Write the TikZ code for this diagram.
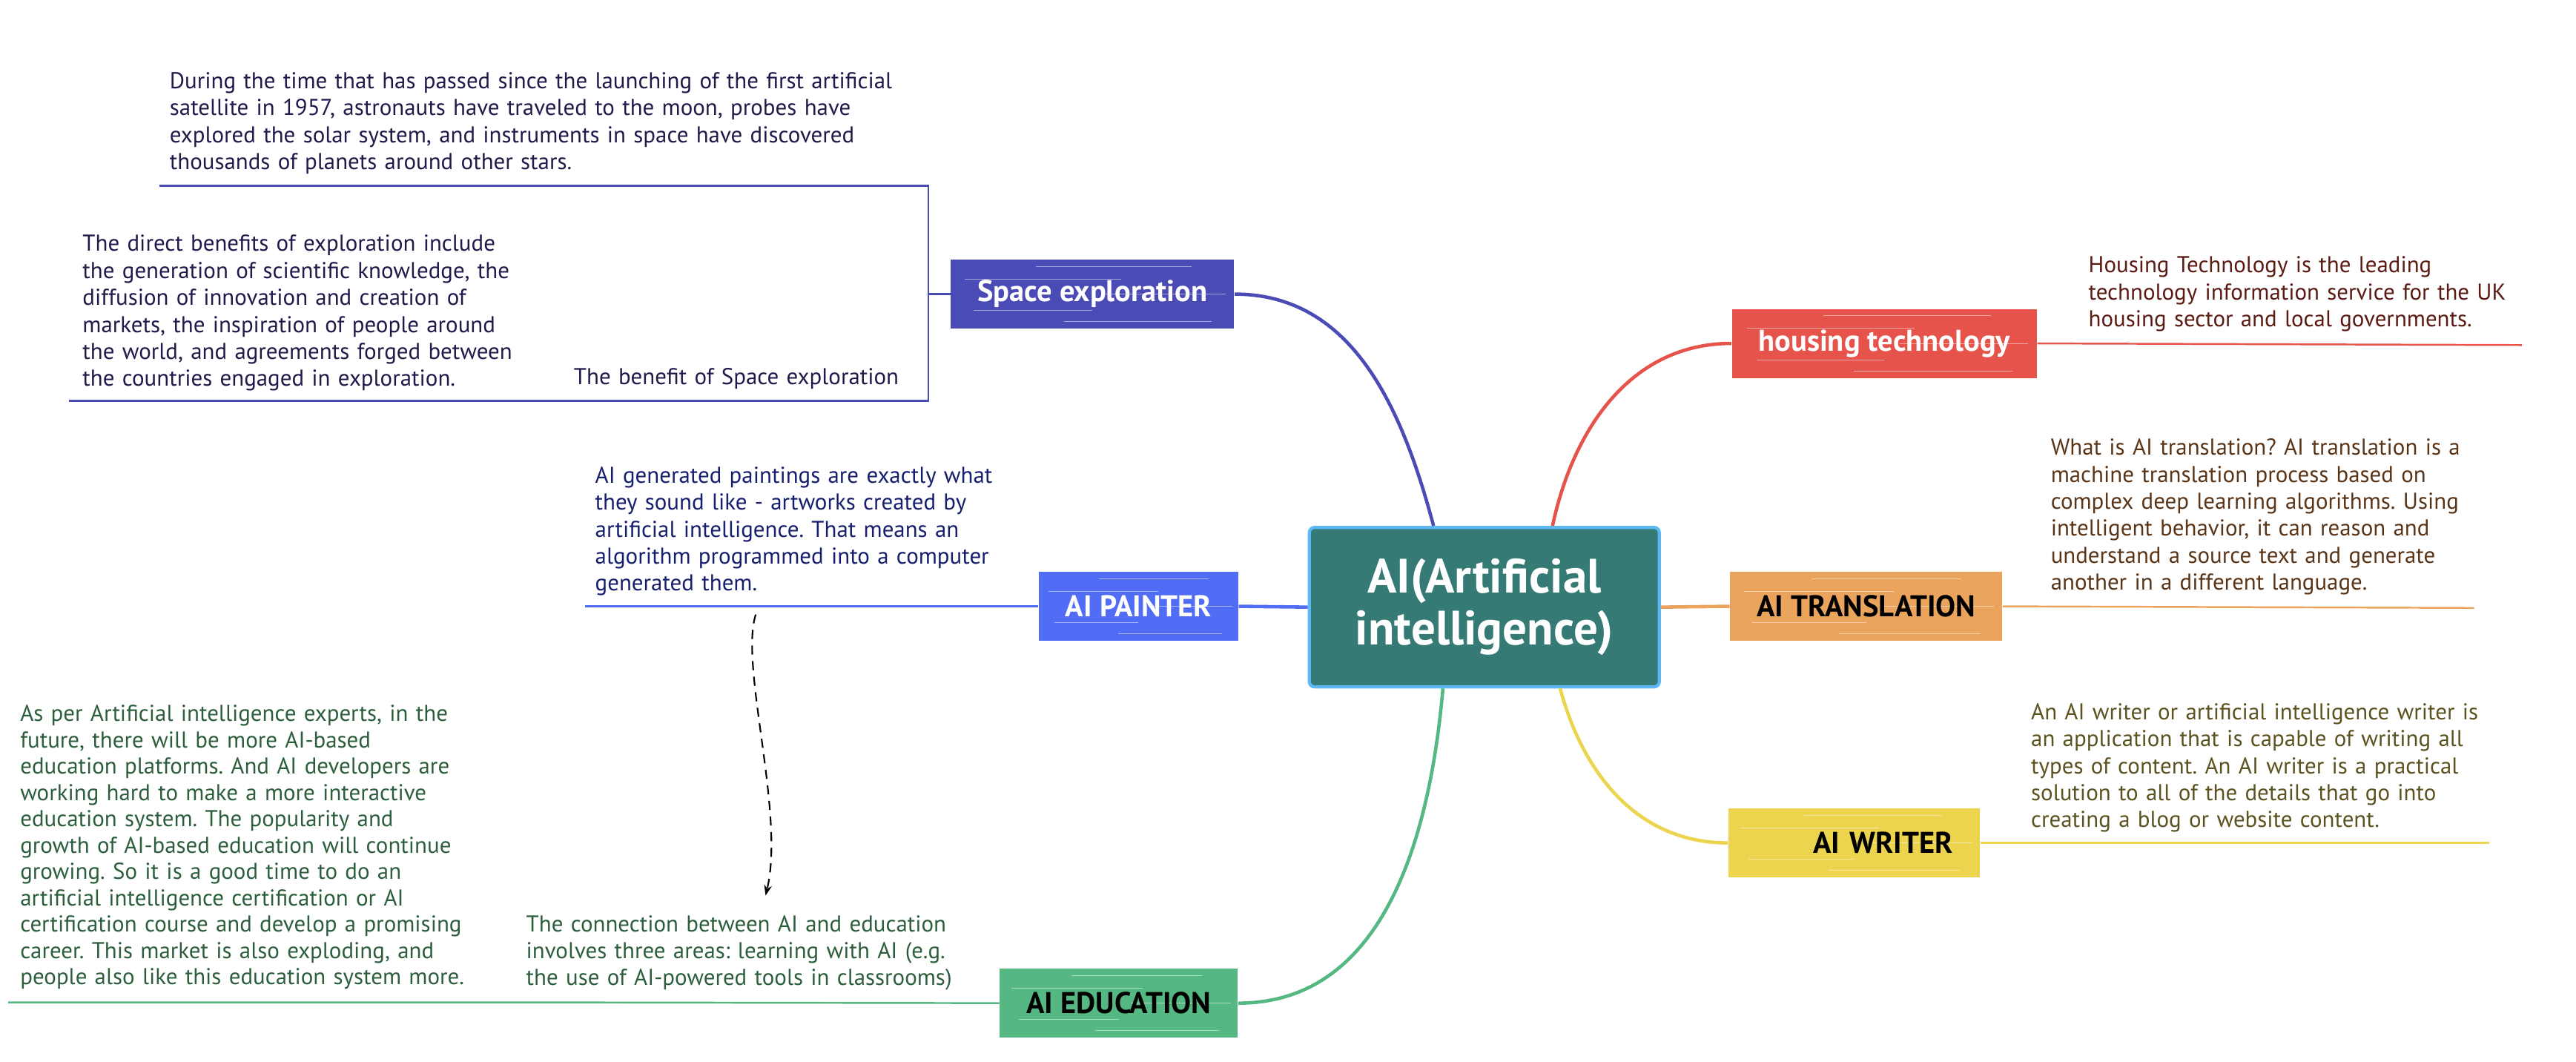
\documentclass[tikz,border=0pt]{standalone}
\usepackage{fontspec}
\setmainfont{PT Sans}
\frenchspacing
\usetikzlibrary{arrows.meta,positioning,calc}
\definecolor{aiteal}{RGB}{53,122,116}
\definecolor{aiborder}{RGB}{91,184,245}
\definecolor{spacec}{RGB}{75,75,181}
\definecolor{housec}{RGB}{229,83,75}
\definecolor{paintc}{RGB}{82,109,245}
\definecolor{transc}{RGB}{235,164,94}
\definecolor{writerc}{RGB}{237,212,78}
\definecolor{educ}{RGB}{85,184,130}
\definecolor{spacetxt}{RGB}{30,27,75}
\definecolor{painttxt}{RGB}{22,30,110}
\definecolor{housetxt}{RGB}{91,26,18}
\definecolor{transtxt}{RGB}{90,52,22}
\definecolor{writertxt}{RGB}{92,82,32}
\definecolor{edutxt}{RGB}{44,94,60}
\newcommand\brushlines{%
  \foreach \fy/\fa/\fb in {0.1/0.3/0.85, 0.28/0.05/0.6, 0.5/0.55/0.97, 0.74/0.08/0.5, 0.9/0.4/0.92}{%
    \draw[white, opacity=0.5, line width=0.3pt]
      let \p1=(path picture bounding box.south west), \p2=(path picture bounding box.north east) in
      ({\x1+\fa*(\x2-\x1)},{\y2-\fy*(\y2-\y1)}) -- ({\x1+\fb*(\x2-\x1)},{\y2-\fy*(\y2-\y1)});
  }}

\begin{document}
\begin{tikzpicture}[x=0.22156mm, y=-0.22156mm,
  topic/.style={fill=#1, minimum height=0.93cm, inner xsep=3.6mm, font=\bfseries\fontsize{11.5}{13}\selectfont, path picture={\brushlines}},
  note/.style={anchor=base west, text width=11cm, align=left, inner sep=0pt, font=\fontsize{8.8}{10.34}\selectfont},
  ln/.style={draw=#1, line width=0.7pt},
  branch/.style={draw=#1, line width=1.3pt}]
\useasboundingbox (0,0) rectangle (1568,646);

\node[draw=aiborder, line width=1.2pt, rounded corners=2pt, fill=aiteal, minimum width=4.72cm, minimum height=2.15cm,
  text=white, align=center, font=\bfseries\fontsize{18.5}{19.8}\selectfont] (ai) at (903.5,369.5) {AI(Artificial\\intelligence)};

\node[topic=spacec, text=white] (space) at (665,179) {Space exploration};
\node[topic=housec, text=white] (house) at (1147,209) {housing technology};
\node[topic=paintc, text=white] (paint) at (693,369) {AI PAINTER};
\node[topic=transc, text=black] (trans) at (1136,369) {AI TRANSLATION};
\node[topic=writerc, text=black, text width=2.67cm, align=right] (writer) at (1128.5,513) {AI WRITER};
\node[topic=educ, text=black] (edu) at (681,610.5) {AI EDUCATION};

\draw[branch=spacec] (space.east) to[out=0, in=105] (ai.122);
\draw[branch=housec] (ai.50) to[out=78, in=180] (house.west);
\draw[branch=paintc] (ai.west) -- (paint.east);
\draw[branch=transc] (ai.east) -- (trans.west);
\draw[branch=writerc] (ai.-47) to[out=-75, in=180] (writer.west);
\draw[branch=educ] (ai.-117) to[out=-95, in=0] (edu.east);

\node[note, text=spacetxt] (spaceA) at (103,54) {During the time that has passed since the launching of the first artificial\\
satellite in 1957, astronauts have traveled to the moon, probes have\\
explored the solar system, and instruments in space have discovered\\
thousands of planets around other stars.};
\node[note, text=spacetxt] (spaceB) at (349,234) {The benefit of Space exploration};
\node[note, text=spacetxt] (spaceC) at (50,153) {The direct benefits of exploration include\\
the generation of scientific knowledge, the\\
diffusion of innovation and creation of\\
markets, the inspiration of people around\\
the world, and agreements forged between\\
the countries engaged in exploration.};
\coordinate (brTop) at (565,113);
\coordinate (brBot) at (565,244);
\coordinate (spaceAend) at (97,113);
\coordinate (spaceBend) at (340,244);
\coordinate (spaceCend) at (42,244);
\draw[ln=spacec] (space.west) -- (space.west -| brTop);
\draw[ln=spacec] (spaceAend) -- (brTop) -- (brBot) -- (spaceBend) -- (spaceCend);

\node[note, text=housetxt] (houseA) at (1271,166) {Housing Technology is the leading\\
technology information service for the UK\\
housing sector and local governments.};
\coordinate (houseEnd) at (1535,210);
\draw[ln=housec] (house.east) -- (houseEnd);

\node[note, text=painttxt] (paintA) at (362,294) {AI generated paintings are exactly what\\
they sound like - artworks created by\\
artificial intelligence. That means an\\
algorithm programmed into a computer\\
generated them.};
\coordinate (paintEnd) at (356,369);
\draw[ln=paintc] (paint.west) -- (paintEnd);
\coordinate (dashA) at (460,374);
\coordinate (dashB) at (466,545);
\draw[black, line width=0.6pt, dash pattern=on 3.5pt off 2.5pt, -{Stealth[length=4pt, width=3pt]}]
  (dashA) .. controls (450,405) and (478,495) .. (dashB);

\node[note, text=transtxt] (transA) at (1248,277) {What is AI translation? AI translation is a\\
machine translation process based on\\
complex deep learning algorithms. Using\\
intelligent behavior, it can reason and\\
understand a source text and generate\\
another in a different language.};
\coordinate (transEnd) at (1506,370);
\draw[ln=transc] (trans.east) -- (transEnd);

\node[note, text=writertxt] (writerA) at (1236,438) {An AI writer or artificial intelligence writer is\\
an application that is capable of writing all\\
types of content. An AI writer is a practical\\
solution to all of the details that go into\\
creating a blog or website content.};
\coordinate (writerEnd) at (1515,513);
\draw[ln=writerc] (writer.east) -- (writerEnd);

\node[note, text=edutxt] (eduA) at (320,567) {The connection between AI and education\\
involves three areas: learning with AI (e.g.\\
the use of AI-powered tools in classrooms)};
\node[note, text=edutxt, font=\fontsize{8.8}{10.1}\selectfont] (eduB) at (12,439) {As per Artificial intelligence experts, in the\\
future, there will be more AI-based\\
education platforms. And AI developers are\\
working hard to make a more interactive\\
education system. The popularity and\\
growth of AI-based education will continue\\
growing. So it is a good time to do an\\
artificial intelligence certification or AI\\
certification course and develop a promising\\
career. This market is also exploding, and\\
people also like this education system more.};
\coordinate (eduMid) at (312,610);
\coordinate (eduEnd) at (5,610);
\draw[ln=educ] (edu.west) -- (eduMid) -- (eduEnd);
\end{tikzpicture}
\end{document}
